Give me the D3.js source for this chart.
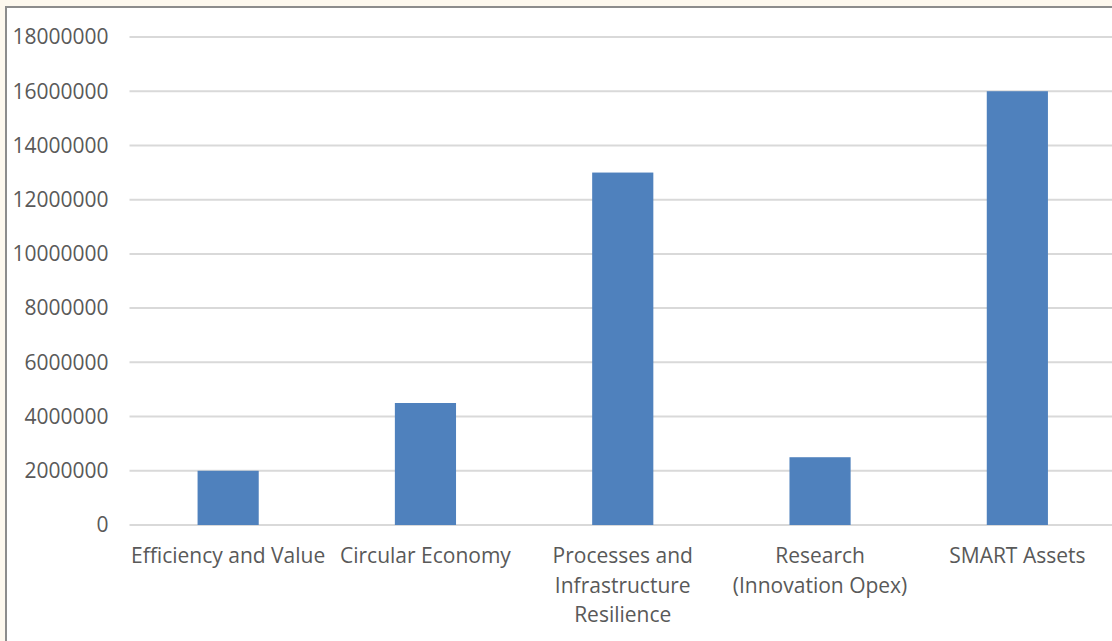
<!DOCTYPE html>
<html>
<head>
<meta charset="utf-8">
<script src="https://cdn.jsdelivr.net/npm/d3@7"></script>
<style>
  body { margin: 0; background: #fdf8ee; }
  svg { display: block; }
</style>
</head>
<body>
<script>
var svgWidth = 1112;
var svgHeight = 641;

// data
const categories = [
  ["Efficiency and Value"],
  ["Circular Economy"],
  ["Processes and", "Infrastructure", "Resilience"],
  ["Research", "(Innovation Opex)"],
  ["SMART Assets"]
];
const values = [2000000, 4500000, 13000000, 2500000, 16000000];
const yTicks = [0, 2000000, 4000000, 6000000, 8000000, 10000000, 12000000, 14000000, 16000000, 18000000];

const margin = {top: 37, right: -4, bottom: 116, left: 129.5};
const width = svgWidth - margin.left - margin.right;
const height = svgHeight - margin.top - margin.bottom;

const textColor = "#595959";
const font = "'Open Sans', sans-serif";
const fontSize = '21px';

const svg = d3.select('body')
	.append('svg')
	.attr('width', svgWidth)
	.attr('height', svgHeight);

// chart area with border on left/top
svg.append('rect')
	.attr('x', 6)
	.attr('y', 7)
	.attr('width', svgWidth)
	.attr('height', svgHeight)
	.attr('fill', '#fff');
svg.append('path')
	.attr('d', 'M6,' + svgHeight + 'V7H' + svgWidth)
	.attr('fill', 'none')
	.attr('stroke', '#8c8c8c')
	.attr('stroke-width', 2);

const xScale = d3.scaleBand()
	.domain(d3.range(categories.length))
	.range([0, width])
	.paddingInner(0.69)
	.paddingOuter(0.345);

const yScale = d3.scaleLinear()
	.domain([0, 18000000])
	.range([height, 0]);

const g = svg.append('g')
	.attr('transform', 'translate(' + margin.left + ',' + margin.top + ')');

// gridlines
g.selectAll('.grid')
	.data(yTicks)
	.enter()
	.append('line')
	.attr('x1', 0)
	.attr('x2', width)
	.attr('y1', d => yScale(d))
	.attr('y2', d => yScale(d))
	.attr('stroke', '#d9d9d9')
	.attr('stroke-width', 2);

// y labels
g.selectAll('.ylab')
	.data(yTicks)
	.enter()
	.append('text')
	.attr('x', -21)
	.attr('y', d => yScale(d))
	.attr('dy', '0.35em')
	.attr('text-anchor', 'end')
	.attr('fill', textColor)
	.style('font-family', font)
	.style('font-size', fontSize)
	.text(d => d3.format('d')(d));

// bars
g.selectAll('.bar')
	.data(values)
	.enter()
	.append('rect')
	.attr('x', (d, i) => xScale(i))
	.attr('y', d => yScale(d))
	.attr('width', xScale.bandwidth())
	.attr('height', d => height - yScale(d))
	.attr('fill', '#4f81bd');

// category labels
const labels = g.selectAll('.xlab')
	.data(categories)
	.enter()
	.append('text')
	.attr('text-anchor', 'middle')
	.attr('fill', textColor)
	.style('font-family', font)
	.style('font-size', fontSize)
	.attr('transform', (d, i) => 'translate(' + (xScale(i) + xScale.bandwidth() / 2) + ',' + (height + 38) + ')');

labels.selectAll('tspan')
	.data(d => d)
	.enter()
	.append('tspan')
	.attr('x', 0)
	.attr('y', (d, i) => i * 29.5)
	.text(d => d);
</script>
</body>
</html>
